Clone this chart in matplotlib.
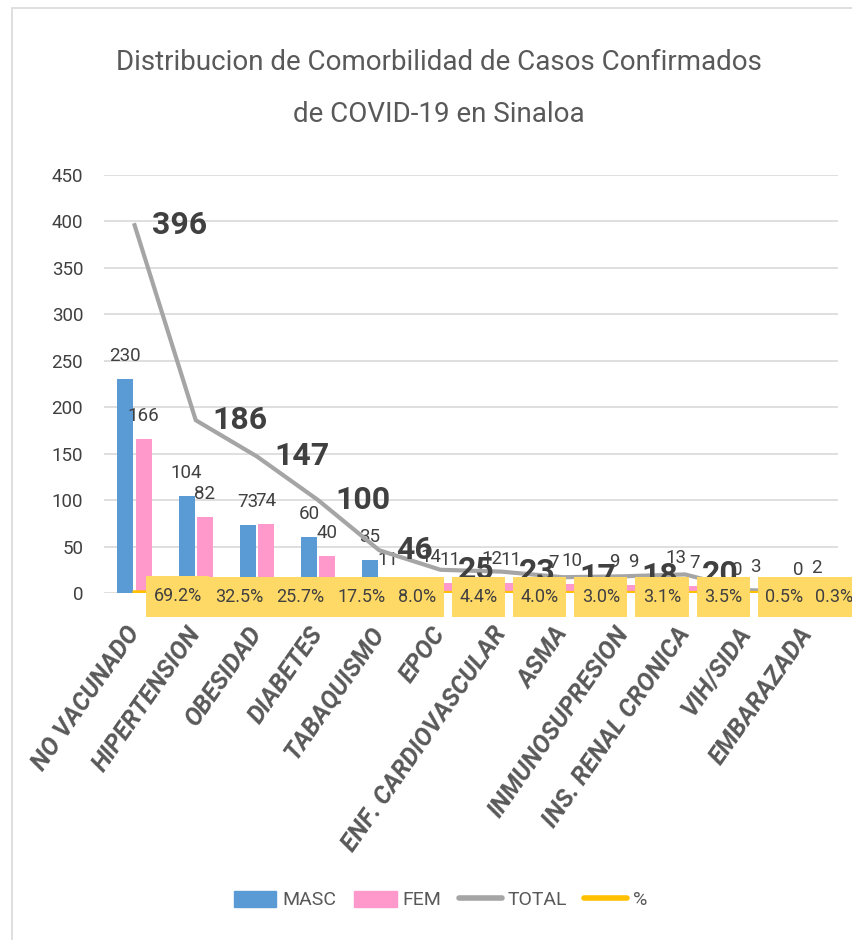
import matplotlib
matplotlib.use("Agg")
import matplotlib.pyplot as plt
from matplotlib.lines import Line2D
from matplotlib.patches import Patch, Rectangle
from matplotlib.path import Path
import numpy as np

plt.rcParams["font.family"] = ["Roboto", "DejaVu Sans"]

categories = ["NO VACUNADO", "HIPERTENSION", "OBESIDAD", "DIABETES", "TABAQUISMO",
              "EPOC", "ENF. CARDIOVASCULAR", "ASMA", "INMUNOSUPRESION",
              "INS. RENAL CRONICA", "VIH/SIDA", "EMBARAZADA"]
masc = [230, 104, 73, 60, 35, 14, 12, 7, 9, 13, 0, 0]
fem = [166, 82, 74, 40, 11, 11, 11, 10, 9, 7, 3, 2]
total = [396, 186, 147, 100, 46, 25, 23, 17, 18, 20, 3, 2]
pct = [0.692, 0.325, 0.257, 0.175, 0.080, 0.044, 0.040, 0.030, 0.031, 0.035, 0.005, 0.003]

C_MASC = "#5B9BD5"
C_FEM = "#FF99CC"
C_TOTAL = "#A5A5A5"
C_PCT = "#FFC000"
C_BOX = "#FFD966"
C_TEXT = "#404040"
C_GREY = "#595959"


def caja(x0, y0, width, height, mutation_size):
    # caja amarilla mas alta que ancha (etiquetas de %)
    px = 0.42 * mutation_size
    py = 0.62 * mutation_size
    x1, y1 = x0 + width + px, y0 + height + py
    x0, y0 = x0 - px, y0 - py
    return Path([(x0, y0), (x1, y0), (x1, y1), (x0, y1), (x0, y0)], closed=True)


fig = plt.figure(figsize=(8.52, 9.40), dpi=100)
ax = fig.add_axes([104 / 852, 1 - 593 / 940, 734 / 852, 418 / 940])

# borde del area del grafico
fig.patches.append(Rectangle((12 / 852, -0.1), 1.2, 1 - 8 / 940 + 0.1,
                             transform=fig.transFigure, fill=False,
                             edgecolor="#D9D9D9", linewidth=1.2, zorder=0))

x = np.arange(len(categories))
w = 0.26
b1 = ax.bar(x - 0.15, masc, w, color=C_MASC, zorder=2)
b2 = ax.bar(x + 0.15, fem, w, color=C_FEM, zorder=2)

for bars, vals in ((b1, masc), (b2, fem)):
    for r, v in zip(bars, vals):
        ax.annotate(str(v), (r.get_x() + r.get_width() / 2, v), xytext=(0, 14),
                    textcoords="offset pixels", ha="center", va="bottom",
                    fontsize=13.5, color=C_TEXT, zorder=3)

ax.plot(x, total, color=C_TOTAL, linewidth=3, zorder=3)
for xi, v in zip(x, total):
    ax.annotate(str(v), (xi, v), xytext=(17, 0), textcoords="offset pixels",
                ha="left", va="center", fontsize=23, fontweight="bold",
                color=C_TEXT, zorder=3)

ax.plot(x, pct, color=C_PCT, linewidth=3, zorder=4)
for i, (xi, v) in enumerate(zip(x, pct)):
    dx = 19 if i < len(pct) - 1 else 8  # la ultima se recorre para que quepa
    ax.annotate(f"{v * 100:.1f}%", (xi, v), xytext=(dx, -4),
                textcoords="offset pixels", ha="left", va="center",
                fontsize=13, color=C_TEXT, zorder=5,
                bbox=dict(boxstyle=caja, fc=C_BOX, ec="none"))

ax.set_xlim(-0.5, len(categories) - 0.5)
ax.set_ylim(0, 450)
ax.set_yticks(np.arange(0, 451, 50))
ax.grid(axis="y", color="#D9D9D9", linewidth=1.2, zorder=0)
ax.set_axisbelow(True)
for s in ax.spines.values():
    s.set_visible(False)
ax.tick_params(axis="both", length=0, colors=C_TEXT)
ax.tick_params(axis="y", labelsize=13.5, pad=15)
ax.set_xticks(x)
ax.set_xticklabels(categories, rotation=55, ha="right", va="center",
                   rotation_mode="anchor", fontsize=18, fontweight="bold",
                   fontstyle="italic", color=C_GREY)
ax.tick_params(axis="x", pad=26)

fig.text(0.515, 1 - 62 / 940, "Distribucion de Comorbilidad de Casos Confirmados",
         ha="center", va="center", fontsize=20, color=C_GREY)
fig.text(0.515, 1 - 114 / 940, "de COVID-19 en Sinaloa",
         ha="center", va="center", fontsize=20, color=C_GREY)

handles = [Patch(color=C_MASC, label="MASC"), Patch(color=C_FEM, label="FEM"),
           Line2D([], [], color=C_TOTAL, linewidth=4, solid_capstyle="round", label="TOTAL"),
           Line2D([], [], color=C_PCT, linewidth=4, solid_capstyle="round", label="%")]
fig.legend(handles=handles, loc="center", bbox_to_anchor=(0.517, 1 - 900 / 940),
           ncol=4, frameon=False, fontsize=14, labelcolor=C_GREY,
           handlelength=2.2, handleheight=0.9, columnspacing=0.9, handletextpad=0.3)

fig.savefig("out.png", dpi=100)
